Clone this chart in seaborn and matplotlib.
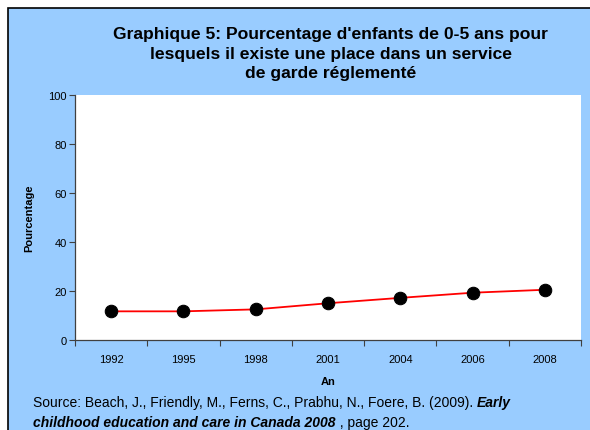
import numpy as np
import pandas as pd
import seaborn as sns
import matplotlib.pyplot as plt
from matplotlib.patches import Rectangle

# data
years = ["1992", "1995", "1998", "2001", "2004", "2006", "2008"]
percent = [11.7, 11.7, 12.5, 15.0, 17.2, 19.3, 20.5]

title = ("Graphique 5: Pourcentage d'enfants de 0-5 ans pour\n"
         "lesquels il existe une place dans un service\n"
         "de garde réglementé")

sns.set_theme(style="white")
plt.rcParams['font.family'] = ['Liberation Sans', 'DejaVu Sans']
plt.rcParams.update({"text.color": "black", "axes.labelcolor": "black",
                     "xtick.color": "black", "ytick.color": "black"})

df = pd.DataFrame({"An": years, "Pourcentage": percent})

fig = plt.figure(figsize=(5.9, 4.31), dpi=100)
fig.patch.set_facecolor("white")

# blue chart frame, kept behind the axes
fig.patches.append(Rectangle((8 / 590, -0.05), 1.0, 1 - 9 / 431 + 0.05,
                             transform=fig.transFigure, facecolor="#99CCFF",
                             edgecolor="black", linewidth=1.2, zorder=-5))

ax = fig.add_axes([75 / 590, 1 - 341 / 431, 506 / 590, 245 / 431])
ax.set_zorder(2)
ax.set_facecolor("white")

sns.lineplot(data=df, x="An", y="Pourcentage", ax=ax, color="red",
             linewidth=1.3, marker="o", markersize=9,
             markerfacecolor="black", markeredgecolor="black", sort=False)

ax.set_xlim(-0.5, len(years) - 0.5)
ax.set_ylim(0, 100)
ax.set_yticks(np.arange(0, 101, 20))
ax.set_xticks(range(len(years)))
ax.set_xticklabels(years)
ax.set_xticks(np.arange(-0.5, len(years), 1), minor=True)
ax.tick_params(axis="x", which="major", length=0, labelsize=8, pad=10)
ax.tick_params(axis="x", which="minor", length=4, width=0.8,
               direction="out", color="#404040", bottom=True)
ax.tick_params(axis="y", length=4, width=0.8, direction="out",
               color="#404040", labelsize=8, left=True, pad=2)

for side in ["top", "right"]:
    ax.spines[side].set_visible(False)
for side in ["left", "bottom"]:
    ax.spines[side].set_color("#404040")
    ax.spines[side].set_linewidth(0.9)

ax.set_xlabel("An", fontsize=8, fontweight="bold", labelpad=9)
ax.set_ylabel("Pourcentage", fontsize=8, fontweight="bold", labelpad=10)

fig.text(330.5 / 590, 1 - 54 / 431, title, ha="center", va="center",
         fontsize=12.6, fontweight="bold", linespacing=1.4)

# source note
src_font = ['Liberation Sans Narrow', 'Liberation Sans', 'DejaVu Sans']
src_size = 10.0
t1 = fig.text(33 / 590, 1 - 403 / 431,
              "Source: Beach, J., Friendly, M., Ferns, C., Prabhu, N., Foere, B. (2009). ",
              ha="left", va="center", fontsize=src_size, family=src_font)
fig.canvas.draw()
bb = t1.get_window_extent()
fig.text(bb.x1 / 590, 1 - 403 / 431, "Early", ha="left", va="center",
         fontsize=src_size, family=src_font, fontweight="bold", style="italic")
t3 = fig.text(33 / 590, 1 - 423 / 431,
              "childhood education and care in Canada 2008",
              ha="left", va="center", fontsize=src_size, family=src_font,
              fontweight="bold", style="italic")
fig.canvas.draw()
bb3 = t3.get_window_extent()
fig.text(bb3.x1 / 590, 1 - 423 / 431, " , page 202.", ha="left", va="center",
         fontsize=src_size, family=src_font)

fig.savefig("out.png", dpi=100)
